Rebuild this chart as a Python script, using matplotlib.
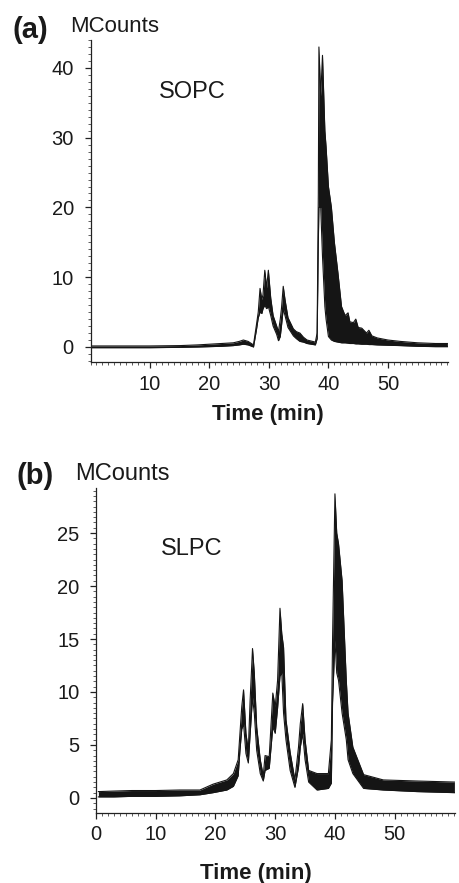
import matplotlib
matplotlib.use("Agg")
import matplotlib.pyplot as plt
from matplotlib.ticker import MultipleLocator

plt.rcParams['font.family'] = ['Liberation Sans', 'DejaVu Sans']

# ---------------- data ----------------
# Panel (a) SOPC: time (min), lower / upper envelope of noisy trace (MCounts)
t_a = [0, 5, 10, 15, 18, 20, 22, 24, 25, 25.7, 26.5, 27.4, 27.9, 28.2, 28.5, 28.8,
       29.0, 29.3, 29.6, 29.9, 30.3, 30.7, 31.3, 31.6, 31.9, 32.1, 32.4, 32.7, 33.2,
       34.1, 34.6, 35.2, 35.8, 36.4, 37.8, 38.1, 38.3, 38.4, 38.7, 39.0, 39.4, 39.6,
       40.0, 40.5, 41.0, 41.6, 42.2, 42.8, 43.3, 43.6, 44.2, 44.6, 45.0, 45.6,
       46.4, 46.8, 47.3, 48.2, 50, 52.1, 55, 58, 60]
lo_a = [-0.1, -0.1, -0.1, -0.05, 0.0, 0.05, 0.1, 0.2, 0.3, 0.4, 0.3, 0.0, 2.5, 4.2,
        5.0, 4.8, 5.5, 6.0, 5.5, 5.8, 4.5, 3.0, 1.8, 0.9, 1.5, 3.0, 5.5, 4.5, 2.8,
        1.6, 1.2, 0.8, 0.7, 0.5, 0.3, 1.2, 15, 20, 20, 13, 5.8, 4.0,
        1.5, 1.0, 0.8, 0.7, 0.6, 0.6, 0.55, 0.5, 0.5, 0.45, 0.45, 0.4,
        0.4, 0.35, 0.35, 0.3, 0.25, 0.2, 0.1, 0.05, 0.05]
hi_a = [0.15, 0.15, 0.15, 0.2, 0.3, 0.4, 0.5, 0.6, 0.8, 1.0, 0.8, 0.3, 3.2, 5.0,
        8.4, 6.8, 7.5, 11.0, 8.5, 11.0, 7.0, 4.5, 3.0, 2.2, 4.0, 5.5, 8.7, 6.8, 4.2,
        2.6, 2.2, 2.0, 1.4, 1.0, 0.7, 2.0, 22, 43, 36, 41.8, 31, 28.7,
        23, 20, 15, 10.6, 5.8, 4.5, 4.9, 3.6, 3.5, 4.0, 2.8, 2.7,
        2.0, 2.4, 1.6, 1.3, 1.0, 0.8, 0.6, 0.5, 0.5]

# Panel (b) SLPC
t_b = [0.4, 3, 6, 10, 14, 17.4, 19.6, 21.9, 23.0, 23.8, 24.1, 24.4, 24.7, 25.1,
       25.5, 25.8, 26.2, 26.5, 26.9, 27.5, 28.0, 28.3, 29.0, 29.6, 30.0, 30.4, 30.8,
       31.1, 31.4, 31.8, 32.5, 33.3, 33.9, 34.2, 34.6, 35.0, 35.6, 37.0, 38.9, 39.4,
       39.6, 40.0, 40.3, 40.6, 41.2, 41.9, 42.2, 43.0, 44.8, 48.1, 53.7, 60]
lo_b = [0.1, 0.1, 0.15, 0.15, 0.2, 0.3, 0.5, 0.75, 1.1, 2.1, 4.5, 6.5, 7.0, 4.2,
        3.3, 6.0, 9.5, 8.0, 4.5, 2.3, 1.6, 2.6, 2.8, 6.7, 6.1, 8.5, 11.5,
        11.8, 8.0, 5.5, 2.6, 1.0, 2.9, 4.8, 6.1, 3.6, 1.5, 0.75, 0.9, 1.4,
        9, 14.9, 11.8, 11.1, 8.0, 5.5, 3.6, 2.3, 0.9, 0.75, 0.6, 0.5]
hi_b = [0.6, 0.65, 0.7, 0.7, 0.75, 0.75, 1.3, 1.7, 2.3, 3.6, 6.1, 8.6, 10.2, 6.1,
        4.5, 9.2, 14.1, 11.8, 6.7, 3.6, 2.1, 4.0, 3.9, 9.9, 8.6, 11.1, 17.9,
        15.5, 14.2, 7.4, 4.3, 1.7, 4.8, 7.0, 8.9, 5.5, 2.6, 2.3, 2.3, 5.5,
        14.9, 28.7, 25.0, 24.0, 20.5, 11.1, 8.0, 4.8, 2.2, 1.7, 1.6, 1.5]

xticks_a = [10, 20, 30, 40, 50]
yticks_a = [0, 10, 20, 30, 40]
xticks_b = [0, 10, 20, 30, 40, 50]
yticks_b = [0, 5, 10, 15, 20, 25]

# ---------------- figure ----------------
W, H = 459, 883
fig = plt.figure(figsize=(W / 100, H / 100), dpi=100)
col = '#151515'


def px_axes(l, t, r, b):
    return fig.add_axes([l / W, 1 - b / H, (r - l) / W, (b - t) / H])


def style(ax, xt, yt, ymin_minor):
    for s in ['top', 'right']:
        ax.spines[s].set_visible(False)
    for s in ['left', 'bottom']:
        ax.spines[s].set_linewidth(0.9)
        ax.spines[s].set_color('#222222')
    ax.set_xticks(xt)
    ax.set_yticks(yt)
    ax.xaxis.set_minor_locator(MultipleLocator(1))
    ax.yaxis.set_minor_locator(MultipleLocator(ymin_minor))
    ax.tick_params(which='major', direction='out', length=4, width=0.9,
                   labelsize=14.5, colors='#222222', labelcolor='#1a1a1a')
    ax.tick_params(axis='y', which='major', pad=8)
    ax.tick_params(axis='x', which='major', pad=5)
    ax.tick_params(which='minor', direction='out', length=2, width=0.6,
                   colors='#444444')


ax1 = px_axes(90.5, 40, 448, 362)
ax1.fill_between(t_a, lo_a, hi_a, color=col, lw=0)
ax1.plot(t_a, lo_a, color=col, lw=0.8)
ax1.plot(t_a, hi_a, color=col, lw=0.8)
ax1.set_xlim(0, 60.1)
ax1.set_ylim(-2.15, 44.0)
style(ax1, xticks_a, yticks_a, 1)

ax2 = px_axes(96, 488, 455, 813)
ax2.fill_between(t_b, lo_b, hi_b, color=col, lw=0)
ax2.plot(t_b, lo_b, color=col, lw=0.8)
ax2.plot(t_b, hi_b, color=col, lw=0.8)
ax2.set_xlim(0, 60.1)
ax2.set_ylim(-1.42, 29.25)
style(ax2, xticks_b, yticks_b, 0.5)


def ftext(x, y, s, **kw):
    fig.text(x / W, 1 - y / H, s, color='#1a1a1a', va='baseline', **kw)


ftext(12.5, 38.5, '(a)', fontsize=21, fontweight='bold')
ftext(70, 32.3, 'MCounts', fontsize=16)
ftext(159, 98.3, 'SOPC', fontsize=17)
ftext(268, 420, 'Time (min)', fontsize=16, fontweight='bold', ha='center')

ftext(17, 484, '(b)', fontsize=21, fontweight='bold')
ftext(75, 480, 'MCounts', fontsize=17)
ftext(161, 555, 'SLPC', fontsize=17)
ftext(256, 879, 'Time (min)', fontsize=16, fontweight='bold', ha='center')

fig.savefig('out.png', dpi=100)
